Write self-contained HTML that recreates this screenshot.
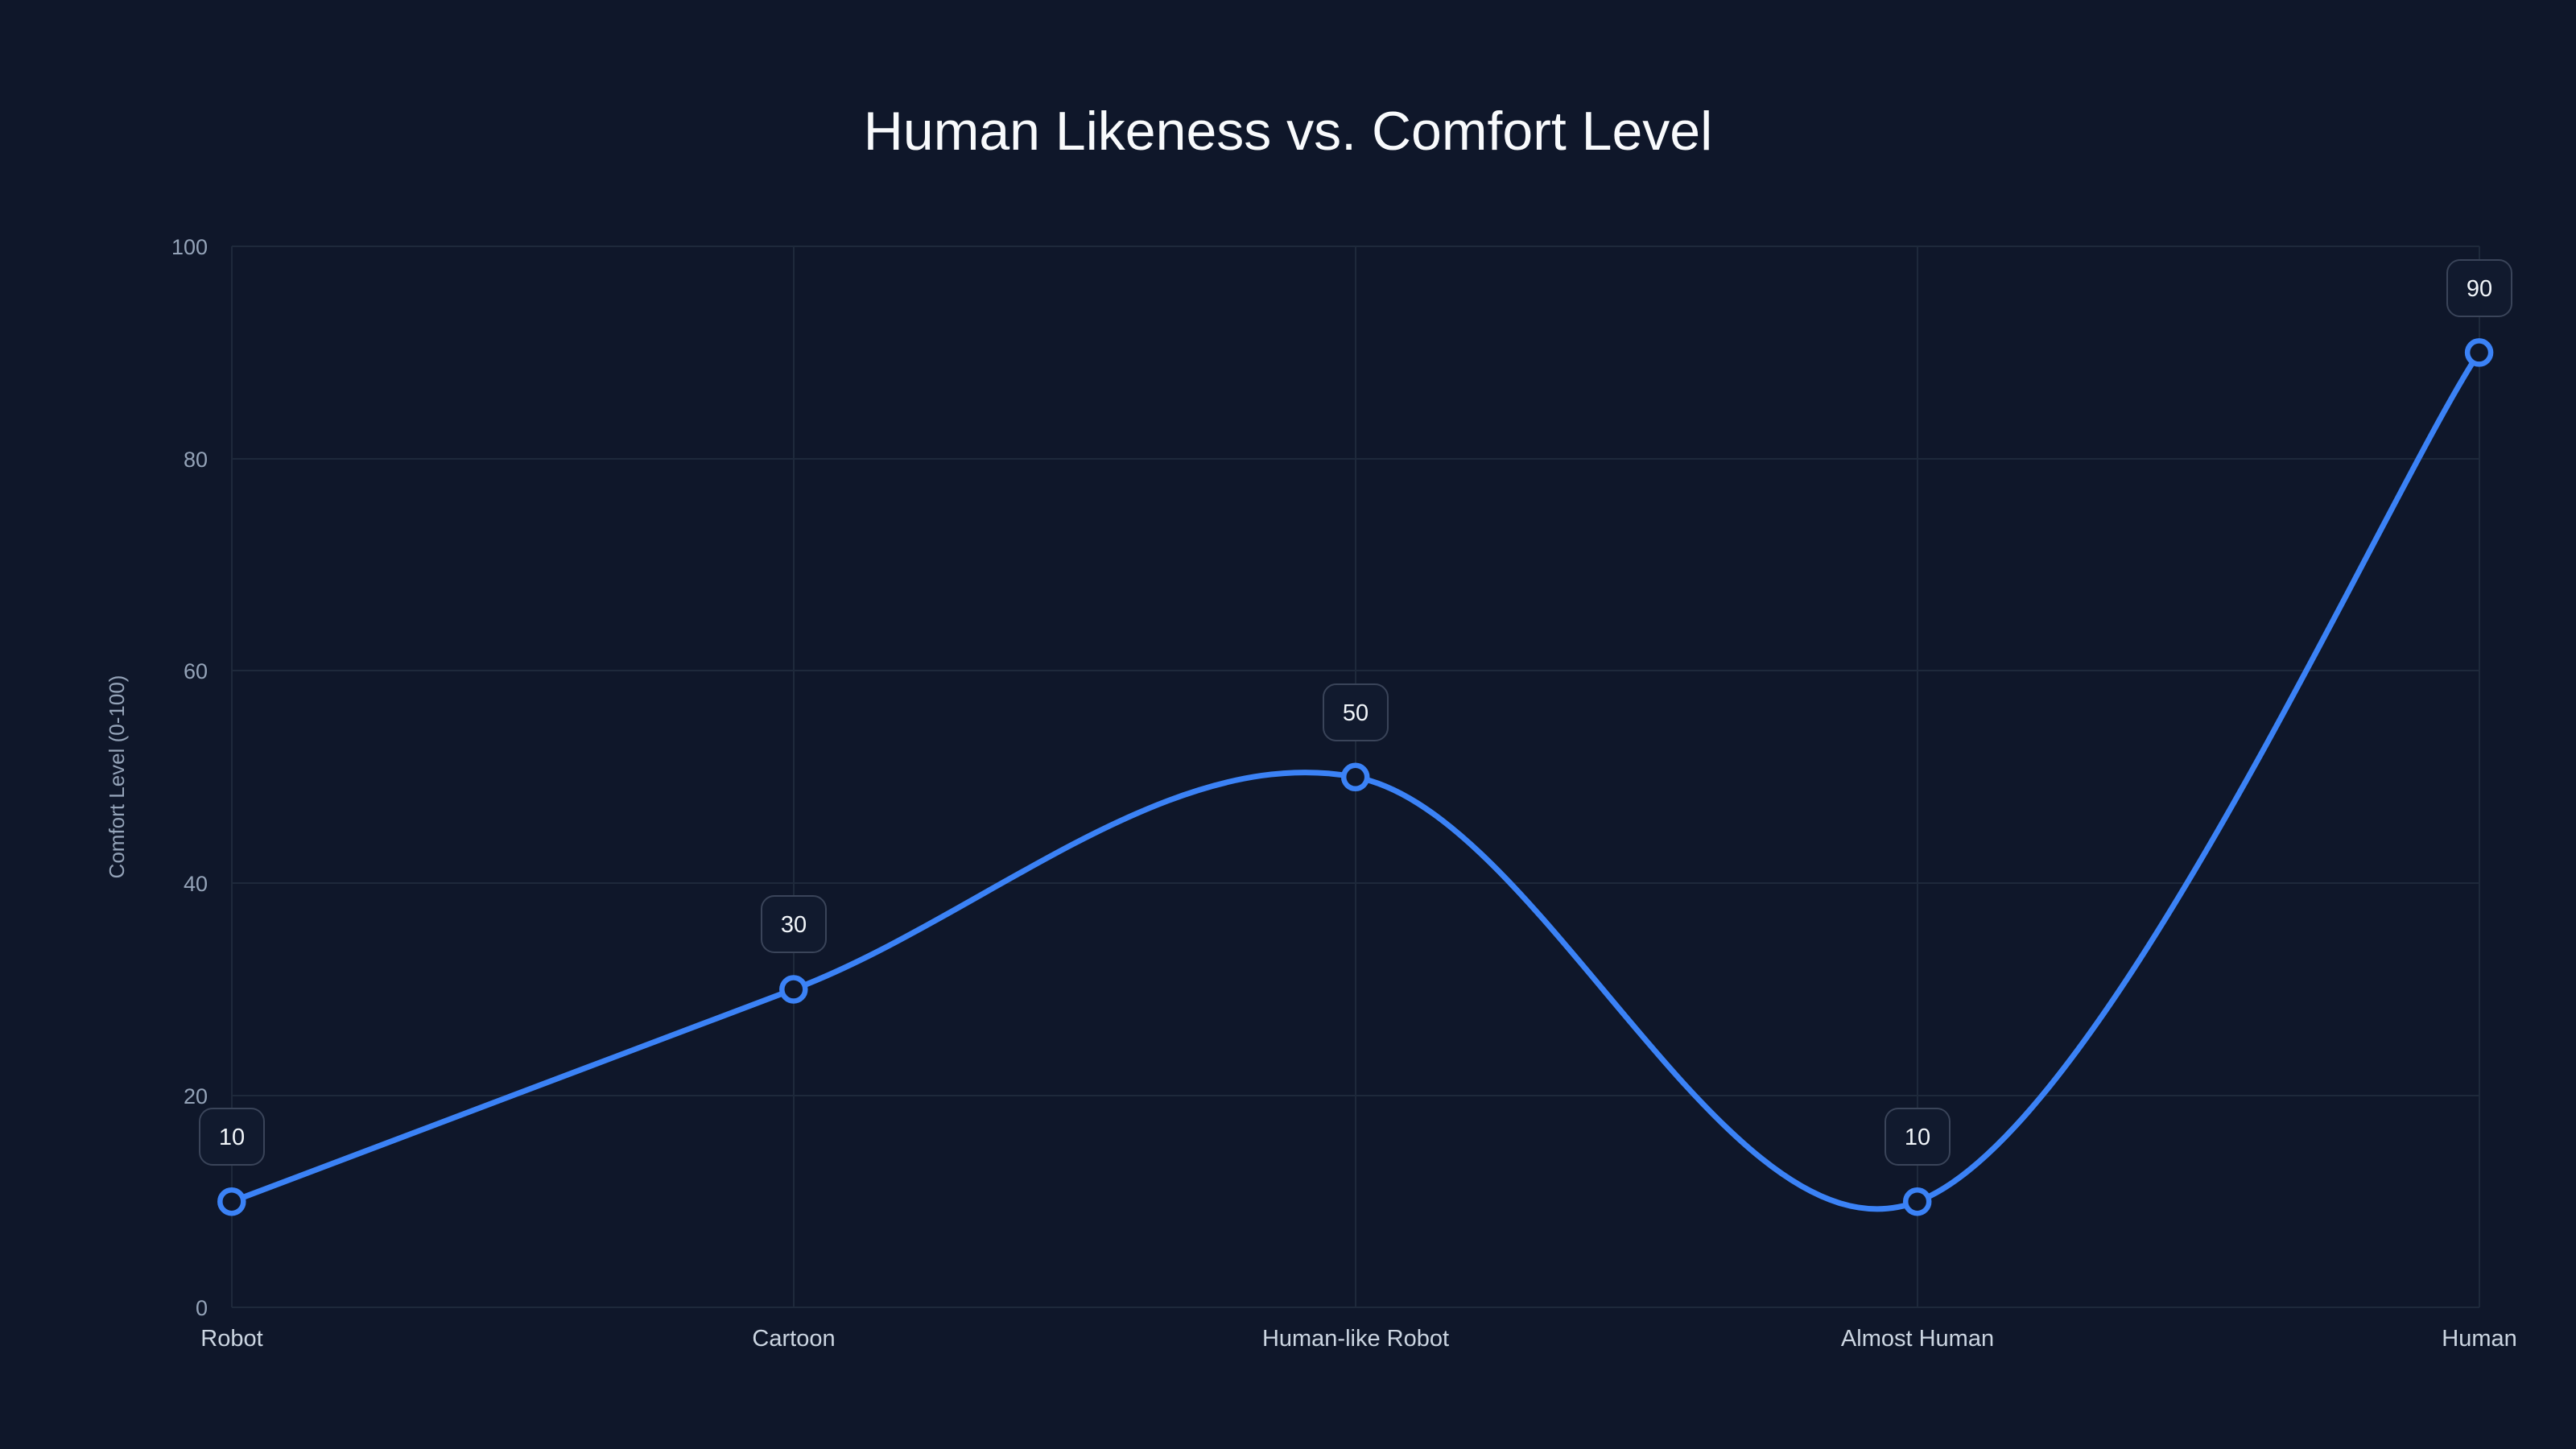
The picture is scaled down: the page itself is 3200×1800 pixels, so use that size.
<!DOCTYPE html>
<html><head><meta charset="utf-8"><style>
html,body{margin:0;padding:0;background:#0f172a;}
svg{display:block;font-family:"Liberation Sans",sans-serif;}
</style></head><body>
<svg width="3200" height="1800" viewBox="0 0 3200 1800" xmlns="http://www.w3.org/2000/svg">
<rect width="3200" height="1800" fill="#0f172a"/>
<text x="1600" y="186" text-anchor="middle" fill="#f8fafc" font-size="68">Human Likeness vs. Comfort Level</text>
<g stroke="#1e293b" stroke-width="2">
<line x1="288" y1="306" x2="3080" y2="306"/>
<line x1="288" y1="570" x2="3080" y2="570"/>
<line x1="288" y1="833" x2="3080" y2="833"/>
<line x1="288" y1="1097" x2="3080" y2="1097"/>
<line x1="288" y1="1361" x2="3080" y2="1361"/>
<line x1="288" y1="1624" x2="3080" y2="1624"/>
<line x1="288" y1="306" x2="288" y2="1624"/>
<line x1="986" y1="306" x2="986" y2="1624"/>
<line x1="1684" y1="306" x2="1684" y2="1624"/>
<line x1="2382" y1="306" x2="2382" y2="1624"/>
<line x1="3080" y1="306" x2="3080" y2="1624"/>
</g>
<g fill="#94a3b8" font-size="27" text-anchor="end">
<text x="258" y="316">100</text>
<text x="258" y="580">80</text>
<text x="258" y="843">60</text>
<text x="258" y="1107">40</text>
<text x="258" y="1371">20</text>
<text x="258" y="1634">0</text>
</g>
<text transform="translate(154,965) rotate(-90)" text-anchor="middle" fill="#94a3b8" font-size="26">Comfort Level (0-100)</text>
<g fill="#cbd5e1" font-size="29" text-anchor="middle">
<text x="288" y="1672">Robot</text>
<text x="986" y="1672">Cartoon</text>
<text x="1684" y="1672">Human-like Robot</text>
<text x="2382" y="1672">Almost Human</text>
<text x="3080" y="1672">Human</text>
</g>
<path d="M287.8,1492.7 C404.1,1448.8 753.15,1316.9 985.8,1229 C1218.45,1141.1 1451.05,921.35 1683.7,965.3 C1916.35,1009.25 2149.05,1580.6 2381.7,1492.7 C2614.35,1404.8 2963.3,613.7 3079.6,437.9" fill="none" stroke="#3b82f6" stroke-width="7" stroke-linecap="round"/>
<g fill="#0f172a" stroke="#3b82f6" stroke-width="6.5">
<circle cx="287.8" cy="1492.7" r="14.5"/>
<circle cx="985.8" cy="1229" r="14.5"/>
<circle cx="1683.7" cy="965.3" r="14.5"/>
<circle cx="2381.7" cy="1492.7" r="14.5"/>
<circle cx="3079.6" cy="437.9" r="14.5"/>
</g>
<g fill="#111a2e" stroke="#3a4459" stroke-width="2">
<rect x="248" y="1377" width="80" height="70" rx="16"/>
<rect x="946" y="1113" width="80" height="70" rx="16"/>
<rect x="1644" y="850" width="80" height="70" rx="16"/>
<rect x="2342" y="1377" width="80" height="70" rx="16"/>
<rect x="3040" y="323" width="80" height="70" rx="16"/>
</g>
<g fill="#f1f5f9" font-size="29" text-anchor="middle">
<text x="288" y="1422">10</text>
<text x="986" y="1158">30</text>
<text x="1684" y="895">50</text>
<text x="2382" y="1422">10</text>
<text x="3080" y="368">90</text>
</g>
</svg>
</body></html>
